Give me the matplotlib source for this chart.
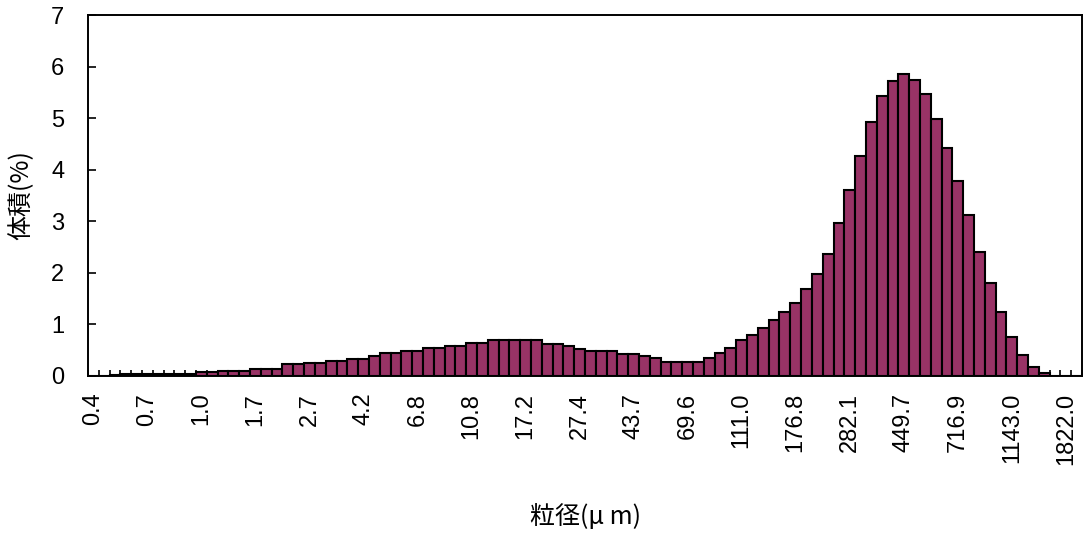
import matplotlib
matplotlib.use('Agg')
import matplotlib.pyplot as plt
import numpy as np

plt.rcParams['font.family'] = ['Noto Sans CJK JP', 'DejaVu Sans']

# volume fraction (%) for each of the 92 size classes
volume = [
    0.00, 0.00, 0.02, 0.03, 0.03, 0.03, 0.03, 0.03, 0.04, 0.04,
    0.08, 0.08, 0.09, 0.09, 0.09, 0.14, 0.14, 0.14, 0.23, 0.23,
    0.26, 0.26, 0.29, 0.29, 0.33, 0.33, 0.39, 0.44, 0.44, 0.48,
    0.48, 0.54, 0.54, 0.59, 0.59, 0.64, 0.64, 0.69, 0.69, 0.69,
    0.69, 0.69, 0.63, 0.63, 0.59, 0.53, 0.48, 0.48, 0.48, 0.43,
    0.43, 0.38, 0.34, 0.28, 0.28, 0.28, 0.28, 0.34, 0.45, 0.55,
    0.70, 0.79, 0.94, 1.09, 1.25, 1.42, 1.68, 1.97, 2.37, 2.96,
    3.61, 4.27, 4.93, 5.42, 5.72, 5.85, 5.74, 5.47, 4.98, 4.43,
    3.79, 3.12, 2.41, 1.80, 1.25, 0.76, 0.40, 0.17, 0.06, 0.00,
    0.00, 0.00,
]
# labelled size classes (every 5th class)
size_labels = ['0.4', '0.7', '1.0', '1.7', '2.7', '4.2', '6.8', '10.8',
               '17.2', '27.4', '43.7', '69.6', '111.0', '176.8', '282.1',
               '449.7', '716.9', '1143.0', '1822.0']
label_step = 5

W, H = 1083, 535
fig = plt.figure(figsize=(W / 100, H / 100), dpi=100)
ax = fig.add_axes([88 / W, 1 - 376 / H, (1082 - 88) / W, (376 - 15) / H])

n = len(volume)
x = np.arange(n)
ax.bar(x, volume, width=1.0, color='#993366', edgecolor='black',
       linewidth=1.5, zorder=3)

ax.set_xlim(-0.5, n - 0.5)
ax.set_ylim(0, 7)
ax.set_yticks(range(0, 8))

tick_font = ['Liberation Sans', 'DejaVu Sans']
ax.set_xticks(np.arange(len(size_labels)) * label_step)
ax.set_xticklabels(size_labels, rotation=90, fontsize=17, family=tick_font)
ax.set_xticks(np.arange(n + 1) - 0.5, minor=True)
ax.tick_params(axis='x', which='major', length=0, pad=12)
ax.tick_params(axis='x', which='minor', direction='in', length=4,
               width=1.2, color='black')
ax.tick_params(axis='y', direction='in', length=5.5, width=1.2,
               labelsize=17, pad=17)
for t in ax.get_yticklabels():
    t.set_family(tick_font)

for s in ax.spines.values():
    s.set_linewidth(1.4)
    s.set_color('black')
    s.set_zorder(4)

ax.set_ylabel('体積(%)', fontsize=18, labelpad=12)
fig.text(586 / W, 1 - 517 / H, '粒径(μ m)', fontsize=18,
         ha='center', va='center')

fig.savefig('out.png', dpi=100, facecolor='white')
plt.close(fig)
